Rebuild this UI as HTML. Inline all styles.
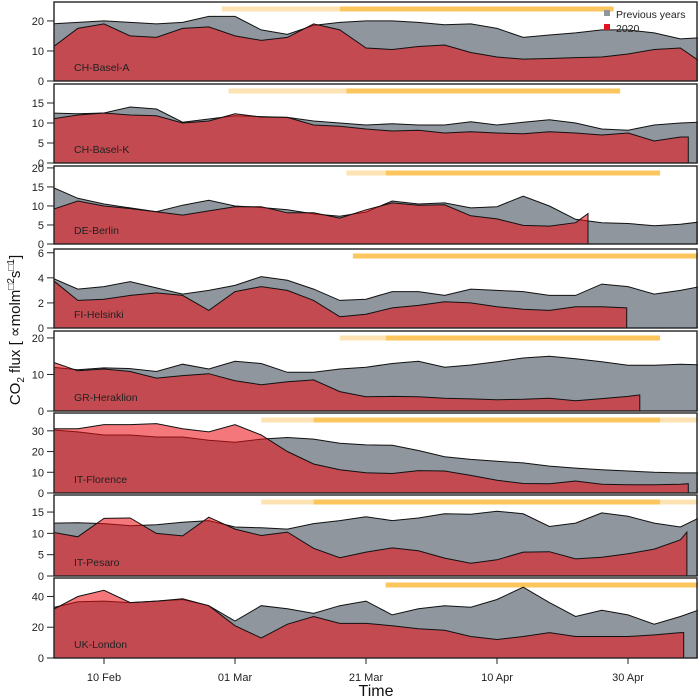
<!DOCTYPE html>
<html><head><meta charset="utf-8">
<style>
html,body{margin:0;padding:0;background:#fff;}
svg{display:block;font-family:"Liberation Sans",Arial,sans-serif;}
</style></head>
<body>
<svg id="chart" width="698" height="698" viewBox="0 0 698 698" xmlns="http://www.w3.org/2000/svg"></svg>
<script>
// Days relative to 10 Feb
const days = [-8,-4,0,4,8,12,16,20,24,28,32,36,40,44,48,52,56,60,64,68,72,76,80,84,88,92];
const siteNames = ["CH-Basel-A","CH-Basel-K","DE-Berlin","FI-Helsinki","GR-Heraklion","IT-Florence","IT-Pesaro","UK-London"];
const prevBasA = [19,19.5,20,19.5,19,19.5,21.5,21.5,17,15.5,18.5,19.5,20,20,19.5,18.7,19,17.5,14.5,15.3,16,17,17,16,14,14.5];
const y2020BasA = [11,17.5,19,15,14.5,17.5,18,15,13.5,14.5,19,17,11,10.5,11.5,12,9.5,8,7.3,7.5,7.8,8,9,10.5,11,5];
const prevBasK = [12.5,12.3,12.5,14,13.5,10.2,11,11.8,11.6,11.4,10.5,10,9.5,9.8,9.5,9.5,10.3,9.5,10.2,10.8,10,8.5,8.2,9.5,10,10.3];
const y2020BasK = [11,12,12.5,12,11.8,10,10.5,12.3,11.5,11.4,9.5,9.2,8.5,8,8.2,7.5,7.8,7.5,7.3,7.8,7.5,7,7.5,5.5,6.5];
const prevBer = [15,12,10.5,9.5,8.5,10.2,11.5,10,9.6,9,7.9,7.3,8.4,11.3,10.5,10.8,9.5,9.8,12.6,10,6.5,5.6,5.4,4.8,5.2,6];
const y2020Ber = [9,11.3,10,9.3,8.5,7.6,8.7,9.8,9.8,8.2,8.2,6.8,9,10.8,10.2,10.3,7.4,6.6,4.9,4.7,5.6];
const prevHel = [4.0,3.1,3.3,3.7,3.2,2.7,3.0,3.4,4.1,3.8,3.1,2.2,2.3,2.9,2.9,2.6,3.1,3.0,2.9,2.6,2.6,3.5,3.3,2.7,3.0,3.4];
const y2020Hel = [3.9,2.2,2.3,2.6,2.8,2.6,1.4,2.9,3.3,3.0,2.2,0.9,1.1,1.6,1.8,2.1,2.0,1.7,1.5,1.4,1.7,1.7];
const prevHer = [12,11.3,11.8,11.6,10.8,12.8,11.5,13.6,13,10.6,10.6,11.5,12,13,13.6,12,12.6,13.5,14.5,15,14.3,13.5,12.5,12.5,12.8,12.6];
const y2020Her = [13.5,11,11.5,10.8,9,9.7,10.2,8.3,7.2,8,8.5,5.3,3.9,4,3.9,3.5,3.3,3.1,3.2,3.5,2.8,3.4,4.0];
const prevFlo = [30.5,29.5,28,28,27,27,25.5,24.5,26,26.8,26,24,23.2,23,20.5,17.5,16.2,15.3,14.5,13,12,11.2,10.6,10,9.7,9.7];
const y2020Flo = [31,31,33,33,33.5,31,29.5,33,28,20,14,11.2,9.8,9.4,10.8,10.6,8.5,6.2,4.6,4.5,5.8,4.2,4,4,4.2];
const prevPes = [12.4,12.5,12.3,11.8,12,12.6,13,11.5,11.3,11,12.3,13,13.9,13,13.6,14.6,14.5,15.2,14.6,11.6,12.4,14.8,14,12.4,11.5,14.5];
const y2020Pes = [10.3,9.2,13.5,13.6,10,9.4,13.8,11,9.5,10.3,6.5,4.3,5.6,6.6,5.9,4.2,3.0,3.8,5.6,5.7,4.0,4.4,5.2,6.3,8.5];
const prevLon = [32.5,36.5,37,36,37,38,34,24,34,32,29,34,37,28,32,34,33,38,46,36,27,31,28,22,27,33];
const y2020Lon = [31,40,44,36,37,38.5,34,21,13,22,27,22.5,22.5,21,19,18,14,12,14,16.5,14,14,14,15,16.5];
const endDays = [92,89.2,73.9,79.8,81.8,89.2,89,88.5];
const endVals = [5,6.5,8,1.6,4.4,4.5,10.3,16.5];
const prevSeries = [prevBasA,prevBasK,prevBer,prevHel,prevHer,prevFlo,prevPes,prevLon];
const redSeries = [y2020BasA,y2020BasK,y2020Ber,y2020Hel,y2020Her,y2020Flo,y2020Pes,y2020Lon];
const yMaxes = [26.3,19.75,20.5,6.3,21.9,38.6,19,52];
const yTicks = [[0,10,20],[0,5,10,15],[0,5,10,15,20],[0,2,4,6],[0,10,20],[0,10,20,30],[0,5,10,15],[0,20,40]];
const xTickDays = [0,20,40,60,80];
const xTickLabels = ["10 Feb","01 Mar","21 Mar","10 Apr","30 Apr"];
const lightPeriods = [[18,36],[19,37],[37,43],null,[36,43],[24,32],[24,32],null];
const darkPeriods = [[36,77.8],[37,78.8],[43,84.9],[38,92],[43,84.9],[32,84.9],[32,84.9],[43,92]];
const lightPeriods2 = [null,null,null,null,null,[84.9,92],[84.9,92],null];

const NS="http://www.w3.org/2000/svg";
const svg=document.getElementById('chart');
const X0=54,X1=698;
const tops=[2,84,166,249,331,413,495,578];
const zeros=[81,163,244,328,411,493,576,658];
function xScale(d){return 104+d*6.55;}
function el(tag,attrs,parent){const e=document.createElementNS(NS,tag);for(const k in attrs)e.setAttribute(k,attrs[k]);(parent||svg).appendChild(e);return e;}

const defs=el('defs',{});
for(let p=0;p<8;p++){
  const cp=el('clipPath',{id:'clip'+p},defs);
  el('rect',{x:X0,y:tops[p],width:X1-X0,height:zeros[p]-tops[p]},cp);
}

for(let p=0;p<8;p++){
  const top=tops[p],zero=zeros[p],ymax=yMaxes[p];
  const yS=v=>zero-v*(zero-top)/ymax;
  const g=el('g',{});
  
  
  const inner=el('g',{'clip-path':'url(#clip'+p+')'},g);
  const barY=top+4.5;
  [[lightPeriods[p],'#fde3b3'],[lightPeriods2[p],'#fde3b3'],[darkPeriods[p],'#fcc65e']].forEach(([per,col])=>{
    if(!per)return;
    const r=el('rect',{x:xScale(per[0]),y:barY,width:xScale(per[1])-xScale(per[0]),height:5,fill:col},inner);
    
    
  });
  const prev=prevSeries[p];
  let d='M'+xScale(days[0])+','+zero;
  prev.forEach((v,i)=>{d+=' L'+xScale(days[i]).toFixed(1)+','+yS(v).toFixed(1);});
  d+=' L'+xScale(days[prev.length-1])+','+zero+' Z';
  const ga=el('path',{d:d,fill:'#8f969e',stroke:'#111','stroke-width':1},inner);
  
  
  const red=redSeries[p];
  let rd='M'+xScale(days[0])+','+zero;
  red.forEach((v,i)=>{ if(days[i]<endDays[p]) rd+=' L'+xScale(days[i]).toFixed(1)+','+yS(v).toFixed(1);});
  rd+=' L'+xScale(endDays[p]).toFixed(1)+','+yS(endVals[p]).toFixed(1)+' L'+xScale(endDays[p]).toFixed(1)+','+zero+' Z';
  const ra=el('path',{d:rd,fill:'rgba(236,14,20,0.56)',stroke:'#111','stroke-width':1},inner);
  
  
  const b=el('rect',{x:X0,y:top,width:X1-X0-1,height:zero-top,fill:'none',stroke:'#222','stroke-width':1.4},g);
  
  
  yTicks[p].forEach(t=>{
    const yy=yS(t);
    el('line',{x1:47,x2:X0,y1:yy,y2:yy,stroke:'#222','stroke-width':1},g);
    const tx=el('text',{x:44,y:yy+4,'text-anchor':'end','font-size':11,fill:'#222'},g);
    tx.textContent=t;
    
    
  });
  const lbl=el('text',{x:74,y:zero-10,'font-size':10.5,fill:'#222'},g);
  lbl.textContent=siteNames[p];
  
  
}
xTickDays.forEach((t,i)=>{
  const xx=xScale(t);
  el('line',{x1:xx,x2:xx,y1:658,y2:664,stroke:'#222','stroke-width':1});
  const tx=el('text',{x:xx,y:681,'text-anchor':'middle','font-size':11,fill:'#222'});
  tx.textContent=xTickLabels[i];
  
  
});
</script>
<svg style="position:absolute;left:0;top:0" width="698" height="698">
  <text x="376" y="696" text-anchor="middle" font-size="16" fill="#111" font-family="Liberation Sans, sans-serif">Time</text>
  <text transform="translate(20,330) rotate(-90)" text-anchor="middle" font-size="15" fill="#111" font-family="Liberation Sans, DejaVu Sans, sans-serif">CO<tspan font-size="10" dy="4">2</tspan><tspan dy="-4"> flux [ ∝molm</tspan><tspan font-size="10" dy="-6">□2</tspan><tspan dy="6">s</tspan><tspan font-size="10" dy="-6">□1</tspan><tspan dy="6">]</tspan></text>
  <rect x="604" y="10" width="6" height="6" fill="#8f969e"/>
  <text x="616" y="18" font-size="10.5" fill="#222" font-family="Liberation Sans, sans-serif">Previous years</text>
  <rect x="604" y="24" width="6" height="6" fill="#e0141e"/>
  <text x="616" y="32" font-size="10.5" fill="#222" font-family="Liberation Sans, sans-serif">2020</text>
</svg>
</body></html>
